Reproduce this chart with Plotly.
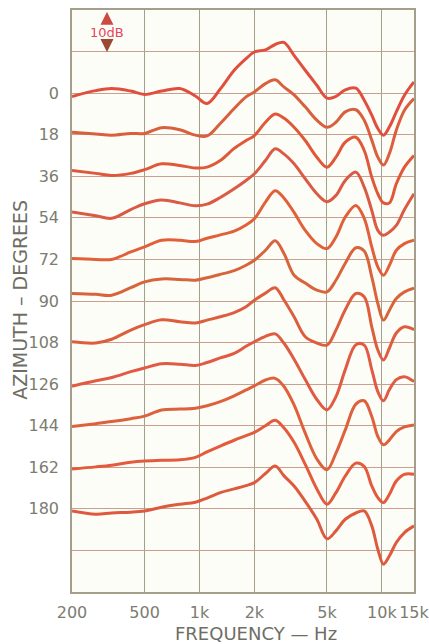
import math
import plotly.graph_objects as go

# Frequency points (Hz) shared by every response curve
freq_hz = [200, 270, 330, 420, 500, 620, 780, 950, 1100, 1300, 1550, 1800, 2000,
           2300, 2600, 2900, 3300, 3800, 4400, 5000, 5600, 6300, 7200, 8000,
           8800, 9500, 10200, 11000, 12000, 13300, 15000]

# Relative level (dB) of each azimuth curve about its own baseline
az_000 = [-0.8, 0.6, 1.1, 0.5, -0.3, 0.5, 1.1, -0.7, -2.5, 1.0, 5.5, 8.3, 9.9,
          10.4, 11.7, 12.2, 9.1, 5.5, 1.9, -1.2, -0.8, 0.8, 1.2, -1.7,
          -5.3, -8.5, -10.1, -8.1, -4.5, -0.5, 2.7]
az_018 = [0.6, 0.2, -0.1, 0.3, 0.3, 1.7, 1.2, -0.1, -0.3, 2.7, 6.3, 9.1, 10.3,
          12.3, 13.2, 11.5, 9.6, 6.7, 3.5, 1.8, 3.0, 5.5, 6.0, 3.5,
          -1.3, -5.4, -7.3, -4.5, 1.1, 5.9, 8.7]
az_036 = [1.4, 0.7, 0.2, 0.7, 1.6, 3.0, 2.6, 2.0, 2.2, 3.8, 6.7, 8.6, 9.8,
          13.0, 15.0, 14.0, 11.8, 8.6, 4.6, 2.2, 4.6, 8.2, 9.4, 6.2,
          -0.2, -4.2, -6.4, -6.4, -1.8, 2.2, 5.0]
az_054 = [1.4, 0.5, -0.1, 2.0, 3.4, 4.3, 3.6, 2.9, 3.3, 4.9, 7.0, 9.0, 10.6,
          13.8, 16.6, 15.4, 13.0, 9.4, 5.8, 3.9, 5.4, 9.0, 11.0, 7.4,
          1.8, -3.0, -4.2, -3.4, -1.8, 2.0, 5.8]
az_072 = [0.2, 0.0, 0.0, 1.8, 3.0, 4.6, 4.6, 4.3, 5.1, 5.9, 6.8, 8.3, 9.8,
          13.8, 16.5, 14.8, 11.3, 7.0, 3.8, 2.6, 5.4, 10.2, 13.0, 9.9,
          3.0, -1.8, -3.8, -1.4, 2.2, 3.8, 4.6]
az_090 = [1.8, 1.6, 1.4, 3.2, 4.6, 5.3, 5.2, 5.0, 5.6, 6.4, 7.3, 8.6, 9.8,
          12.2, 14.5, 11.5, 6.2, 4.3, 2.6, 2.2, 5.0, 9.1, 12.8, 12.0,
          5.8, -0.6, -4.6, -2.2, 0.6, 2.2, 3.1]
az_108 = [0.2, -0.1, 0.8, 3.0, 4.3, 5.5, 5.0, 4.7, 5.4, 6.2, 7.2, 8.6, 10.2,
          11.9, 13.2, 10.3, 6.2, 1.4, -0.1, -0.6, 3.0, 7.9, 11.8, 11.0,
          3.8, -1.8, -4.2, -1.3, 2.3, 3.8, 3.1]
az_126 = [-0.5, 0.8, 1.6, 3.0, 3.9, 4.9, 4.8, 4.5, 5.2, 6.3, 7.4, 9.1, 10.2,
          11.5, 12.1, 9.9, 6.0, 1.1, -3.7, -6.2, -3.0, 3.5, 9.5, 9.4,
          3.5, -1.8, -4.0, -1.3, 1.1, 1.8, 0.6]
az_144 = [-0.2, 0.5, 1.0, 1.7, 2.3, 3.8, 4.0, 4.2, 4.8, 5.8, 7.2, 8.6, 9.6,
          11.0, 11.4, 9.5, 5.0, -1.8, -8.0, -10.6, -6.6, -1.0, 5.2, 6.0,
          2.2, -2.6, -4.6, -3.4, -1.4, -0.3, 0.2]
az_162 = [-0.4, 0.1, 0.5, 1.2, 1.5, 1.7, 1.8, 2.4, 3.7, 5.1, 6.5, 7.6, 8.4,
          10.0, 11.3, 9.5, 6.0, 0.7, -5.2, -8.9, -6.1, -2.1, 1.0, 0.2,
          -4.5, -7.3, -8.5, -6.5, -3.3, -1.7, -1.7]
az_180 = [-0.5, -1.3, -1.0, -0.8, -0.5, 0.4, 1.1, 1.6, 2.6, 3.9, 4.8, 5.6, 6.3,
          8.5, 10.3, 8.0, 5.5, 1.8, -2.5, -7.2, -5.3, -2.5, -1.0, -0.5,
          -4.1, -9.7, -13.3, -11.3, -8.1, -5.7, -4.1]

azimuths = [0, 18, 36, 54, 72, 90, 108, 126, 144, 162, 180]
levels = [az_000, az_018, az_036, az_054, az_072, az_090,
          az_108, az_126, az_144, az_162, az_180]

freq_ticks = [200, 500, 1000, 2000, 5000, 10000, 15000]
freq_labels = ["200", "500", "1k", "2k", "5k", "10k", "15k"]

line_colors = ["#e04e3e", "#d9603f", "#df583a", "#da5a45", "#e1603a", "#d8643c",
               "#dc5e3e", "#e05a44", "#dd613c", "#e35a3c", "#de5a3e"]

STEP_DB = 10          # vertical offset between successive azimuth curves
Y_TOP, Y_BOTTOM = 20, -120

fig = go.Figure()
for i, (az, lv, col) in enumerate(zip(azimuths, levels, line_colors)):
    base = -STEP_DB * i
    fig.add_trace(go.Scatter(
        x=freq_hz, y=[base + v for v in lv], mode="lines",
        line=dict(color=col, width=3, shape="spline", smoothing=1.0),
        name=f"{az}°", showlegend=False,
    ))

# y grid every 10 dB; labels only on the curve baselines
y_ticks = list(range(Y_TOP, Y_BOTTOM - 1, -STEP_DB))
y_text = []
for t in y_ticks:
    if t <= 0 and -t // STEP_DB < len(azimuths):
        y_text.append(str(azimuths[-t // STEP_DB]))
    else:
        y_text.append("")

grid_x = "#a59e8b"
grid_y = "#cc9e8e"
label_col = "#7c7c70"
font_family = "DejaVu Sans"

fig.update_xaxes(
    type="log", range=[math.log10(200), math.log10(15000)],
    tickvals=freq_ticks, ticktext=freq_labels, tickangle=0, automargin=False,
    showgrid=True, gridcolor=grid_x, gridwidth=1.4,
    showline=True, mirror=True, linecolor=grid_x, linewidth=1.6,
    zeroline=False, ticks="", ticklabelstandoff=5, ticklabeloverflow="allow",
    tickfont=dict(family=font_family, size=16, color=label_col),
)
fig.update_yaxes(
    range=[Y_BOTTOM, Y_TOP], tickvals=y_ticks, ticktext=y_text, automargin=False,
    showgrid=True, gridcolor=grid_y, gridwidth=1.4,
    showline=True, mirror=True, linecolor=grid_x, linewidth=1.6,
    zeroline=False, ticks="", ticklabelstandoff=8,
    tickfont=dict(family=font_family, size=16, color=label_col),
)

marker_x = math.log10(311)
annotations = [
    dict(x=marker_x, y=14.7, xref="x", yref="y", text="10dB", showarrow=False,
         font=dict(family=font_family, size=13, color="#e8445a")),
    dict(x=marker_x, y=19.6, xref="x", yref="y", text="", showarrow=True,
         ax=0, ay=13, arrowhead=2, arrowsize=1.3, arrowwidth=2, arrowcolor="#cc4a44"),
    dict(x=marker_x, y=9.9, xref="x", yref="y", text="", showarrow=True,
         ax=0, ay=-13, arrowhead=2, arrowsize=1.3, arrowwidth=2, arrowcolor="#9a4a32"),
    dict(x=0.538, y=-0.072, xref="paper", yref="paper", text="FREQUENCY — Hz",
         showarrow=False, xanchor="center", yanchor="middle",
         font=dict(family=font_family, size=18, color="#6e6e64")),
    dict(x=-0.152, y=0.502, xref="paper", yref="paper", text="AZIMUTH – DEGREES",
         showarrow=False, textangle=-90, xanchor="center", yanchor="middle",
         font=dict(family=font_family, size=19, color="#6e6e64")),
]

fig.update_layout(
    width=429, height=644,
    margin=dict(l=72, r=15, t=10, b=52),
    paper_bgcolor="#ffffff", plot_bgcolor="#fdfdf7",
    annotations=annotations,
)

fig.write_html("out.html")
